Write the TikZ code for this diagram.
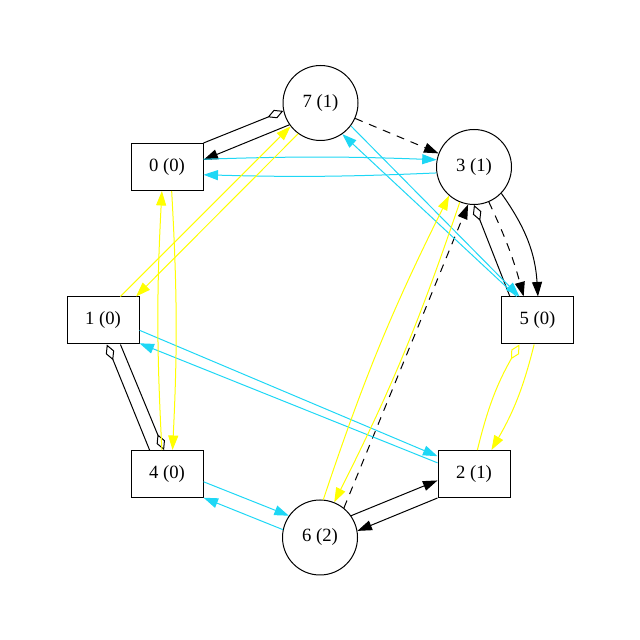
\documentclass[tikz,border=0pt]{standalone}
\usepackage{fontspec}
\setmainfont{Liberation Serif}
\usetikzlibrary{arrows.meta}
\definecolor{lnkcyan}{RGB}{30,215,245}
\definecolor{lnkyellow}{RGB}{255,255,0}
\tikzset{
  x=1pt, y=1pt,
  vbox/.style={draw, line width=1pt, rectangle, minimum width=72pt, minimum height=47pt,
    inner sep=0pt, font=\fontsize{18.7}{22}\selectfont},
  vcirc/.style={draw, line width=1pt, circle, minimum size=75pt,
    inner sep=0pt, font=\fontsize{18.7}{22}\selectfont},
  edge/.style={line width=1pt},
  tri/.style={-{Triangle[length=14.5pt,width=10pt]}},
  dia/.style={-{Diamond[open,length=17pt,width=9pt]}},
  blk/.style={edge, black},
  cy/.style={edge, lnkcyan},
  ye/.style={edge, lnkyellow},
  dsh/.style={edge, black, dash pattern=on 8pt off 7pt},
}
\begin{document}
\begin{tikzpicture}
\useasboundingbox (0,0) rectangle (640,640);

% vertices
\node[vcirc] (n7) at (320.5,537) {7 (1)};
\node[vbox]  (n0) at (167,473)   {0 (0)};
\node[vcirc] (n3) at (474,473)   {3 (1)};
\node[vbox]  (n1) at (103,319.5) {1 (0)};
\node[vbox]  (n5) at (537.5,319.5) {5 (0)};
\node[vbox]  (n4) at (167,166)   {4 (0)};
\node[vbox]  (n2) at (474,166)   {2 (1)};
\node[vcirc] (n6) at (320,102.5) {6 (2)};

% black links
\draw[blk, dia] (n0.north east) -- (n7.192);
\draw[blk, tri] (n7.215) -- (n0.11);
\draw[blk, tri] (n3.316) to[bend left=16] (n5.89);
\draw[blk, dia] (n5.139) -- (n3.270);
\draw[blk, dia] (n4.126) -- (n1.279);
\draw[blk, dia] (n1.306) -- (n4.97);
\draw[blk, tri] (n6.35) -- (n2.190);
\draw[blk, tri] (n2.south west) -- (n6.10);

% dashed links
\draw[dsh, tri] (n7.336) -- (n3.159);
\draw[dsh, tri] (n3.293) to[bend left=5] (n5.120);
\draw[dsh, tri] (n6.51) -- (n3.261);

% cyan links
\draw[cy, tri] (n0.12) to[bend left=2] (n3.169);
\draw[cy, tri] (n3.189) to[bend left=2] (n0.348);
\draw[cy, tri] (n5.131) -- (n7.305);
\draw[cy, tri] (n7.323) -- (n5.127);
\draw[cy, tri] (n1.345) -- (n2.154);
\draw[cy, tri] (n2.163) -- (n1.328);
\draw[cy, tri] (n4.348) -- (n6.145);
\draw[cy, tri] (n6.168) -- (n4.327);

% yellow links
\draw[ye, tri] (n1.54) -- (n7.218);
\draw[ye, tri] (n7.234) -- (n1.36);
\draw[ye, tri] (n0.281) to[bend left=3] (n4.77);
\draw[ye, tri] (n4.102) to[bend left=3] (n0.258);
\draw[ye, dia] (n2.82) to[bend left=8] (n5.233);
\draw[ye, tri] (n5.262) to[bend left=8] (n2.54);
\draw[ye, tri] (n6.85) to[bend left=4] (n3.229);
\draw[ye, tri] (n3.248) to[bend left=4] (n6.68);
\end{tikzpicture}
\end{document}
